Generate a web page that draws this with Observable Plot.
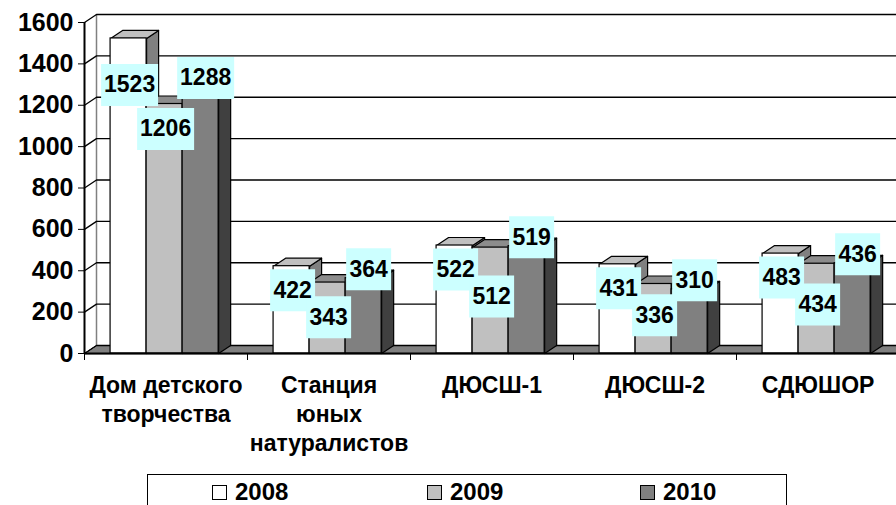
<!DOCTYPE html>
<html>
<head>
<meta charset="utf-8">
<script src="https://cdn.jsdelivr.net/npm/d3@7"></script>
<script src="https://cdn.jsdelivr.net/npm/@observablehq/plot@0.6"></script>
<style>
  html, body { margin: 0; padding: 0; background: #fff; }
  body { width: 896px; height: 505px; overflow: hidden; position: relative; font-family: "Liberation Sans", Arial, sans-serif; }
  #chart svg { display: block; }
  #chart [aria-label^="y-axis"] text { font-size: 25px; font-weight: bold; }
  .legend { position: absolute; left: 147px; top: 474px; width: 640px; height: 60px; border: 1.5px solid #000; box-sizing: border-box; }
  .legend .item { position: absolute; top: 6px; font-weight: bold; font-size: 24px; line-height: 22px; height: 22px; display: flex; align-items: center; }
  .legend .sw { width: 13px; height: 13px; border: 1px solid #000; margin-right: 8px; }
</style>
</head>
<body>
<div id="chart"></div>
<div class="legend" id="legend"></div>
<script>
// ---- data ----
const categories = ["Дом детского\nтворчества", "Станция\nюных\nнатуралистов", "ДЮСШ-1", "ДЮСШ-2", "СДЮШОР"];
const years = ["2008", "2009", "2010"];
const v2008 = [1523, 422, 522, 431, 483];
const v2009 = [1206, 343, 512, 336, 434];
const v2010 = [1288, 364, 519, 310, 436];
const yTicks = [0, 200, 400, 600, 800, 1000, 1200, 1400, 1600];

// ---- styling ----
const frontColor = ["#ffffff", "#c0c0c0", "#808080"];
const topColor = ["#c0c0c0", "#8c8c8c", "#666666"];
const sideColor = ["#808080", "#808080", "#404040"];

// ---- geometry (in scale units) ----
const H = 466, mTop = 22, mBottom = 113;
const pxPerUnitY = (H - mTop - mBottom) / 1600;  // pixels per value unit
const k = 1 / pxPerUnitY;                         // value units per pixel
const xLeft = 84, catPx = 163;
const ddx = 12 / catPx;      // 3D depth in x units
const ddy = 8 * k;           // 3D depth in y units
const PAD = 0.16, BW = 0.221;

const series = [v2008, v2009, v2010];
const bars = [];
categories.forEach((c, i) => {
  series.forEach((vals, j) => {
    const x1 = i + PAD + j * BW;
    bars.push({cat: i, s: j, year: years[j], value: vals[i], x1, x2: x1 + BW});
  });
});

function topPoly(b) {
  return [[b.x1, b.value], [b.x1 + ddx, b.value + ddy], [b.x2 + ddx, b.value + ddy], [b.x2, b.value]]
    .map(([x, y]) => ({x, y, id: b.cat + "-" + b.s}));
}
function sidePoly(b) {
  return [[b.x2, 0], [b.x2, b.value], [b.x2 + ddx, b.value + ddy], [b.x2 + ddx, ddy]]
    .map(([x, y]) => ({x, y, id: b.cat + "-" + b.s}));
}

// label placement rule (mimics the chart's label collision layout)
const labels = [];
categories.forEach((c, i) => {
  const l2010 = v2010[i] + 9 * k;
  const l2008 = Math.min(v2008[i] - 24 * k, l2010 - 7 * k);
  const l2009 = Math.min(v2009[i] - 25 * k, l2008 - 27 * k);
  [l2008, l2009, l2010].forEach((ly, j) => {
    const b = bars.find(d => d.cat === i && d.s === j);
    labels.push({x: (b.x1 + b.x2) / 2, y: ly, text: String(b.value), s: j});
  });
});
const labelDx = [1, 1, 5];

function boxSymbol(w, h) {
  return {draw(ctx) { ctx.rect(-w / 2, -h / 2, w, h); }};
}

// back wall gridlines and left wall diagonals
const grid = yTicks.flatMap(t => [
  {x: 0, y: t, id: t}, {x: ddx, y: t + ddy, id: t}, {x: 5 + ddx, y: t + ddy, id: t}
]);
const floor = [{x: 0, y: 0}, {x: ddx, y: ddy}, {x: 5 + ddx, y: ddy}, {x: 5, y: 0}];

const marks = [
  Plot.line(floor, {x: "x", y: "y", curve: "linear-closed", fill: "#808080", stroke: "#000", strokeWidth: 1}),
  Plot.ruleX([ddx], {y1: ddy, y2: 1600 + ddy, stroke: "#808080", strokeWidth: 1.5}),
  Plot.line(grid, {x: "x", y: "y", z: "id", stroke: "#000", strokeWidth: 1.3}),
];
for (let j = 0; j < 3; j++) {
  const bs = bars.filter(b => b.s === j);
  marks.push(
    Plot.line(bs.flatMap(sidePoly), {x: "x", y: "y", z: "id", curve: "linear-closed", fill: sideColor[j], stroke: "#000", strokeWidth: 1.2}),
    Plot.line(bs.flatMap(topPoly), {x: "x", y: "y", z: "id", curve: "linear-closed", fill: topColor[j], stroke: "#000", strokeWidth: 1.2}),
    Plot.rectY(bs, {x1: "x1", x2: "x2", y1: 0, y2: "value", fill: frontColor[j], stroke: "#000", strokeWidth: 1.2})
  );
}
marks.push(
  Plot.ruleX([0], {y1: 0, y2: 1600, stroke: "#000", strokeWidth: 2}),
  Plot.ruleY([0], {x1: 0, x2: 5, stroke: "#000", strokeWidth: 2})
);
for (let j = 0; j < 3; j++) {
  const ls = labels.filter(l => l.s === j);
  marks.push(
    Plot.dot(ls.filter(l => l.text.length >= 4), {x: "x", y: "y", dx: labelDx[j], symbol: boxSymbol(57, 42), r: 1, fill: "#ccffff", stroke: "none"}),
    Plot.dot(ls.filter(l => l.text.length < 4), {x: "x", y: "y", dx: labelDx[j], symbol: boxSymbol(45, 42), r: 1, fill: "#ccffff", stroke: "none"})
  );
}
for (let j = 0; j < 3; j++) {
  const ls = labels.filter(l => l.s === j);
  marks.push(
    Plot.text(ls, {x: "x", y: "y", dx: labelDx[j], text: "text", fontSize: 23, fontWeight: "bold", fill: "#000"})
  );
}
marks.push(
  Plot.text(categories, {x: (d, i) => i + 0.5, y: () => 0, text: d => d, dy: 19, lineAnchor: "top", lineHeight: 1.26, fontSize: 23, fontWeight: "bold", fill: "#000"})
);

const chart = Plot.plot({
  width: 896,
  height: H,
  marginTop: mTop,
  marginBottom: mBottom,
  marginLeft: xLeft,
  marginRight: 0,
  style: {fontFamily: "'Liberation Sans', Arial, sans-serif", fontWeight: "bold", color: "#000", background: "#fff", overflow: "visible"},
  x: {domain: [0, 5], range: [xLeft, xLeft + 5 * catPx], ticks: [0, 1, 2, 3, 4, 5], tickFormat: () => "", tickSize: 7, label: null},
  y: {domain: [0, 1600], ticks: yTicks, tickFormat: d => String(d), tickSize: 6, tickPadding: 5, label: null},
  marks
});
document.getElementById("chart").appendChild(chart);

// legend
const legend = document.getElementById("legend");
const legendX = [64, 279, 492];
years.forEach((y, j) => {
  const it = document.createElement("div");
  it.className = "item";
  it.style.left = legendX[j] + "px";
  it.innerHTML = `<span class="sw" style="background:${frontColor[j]}"></span>${y}`;
  legend.appendChild(it);
});
</script>
</body>
</html>
